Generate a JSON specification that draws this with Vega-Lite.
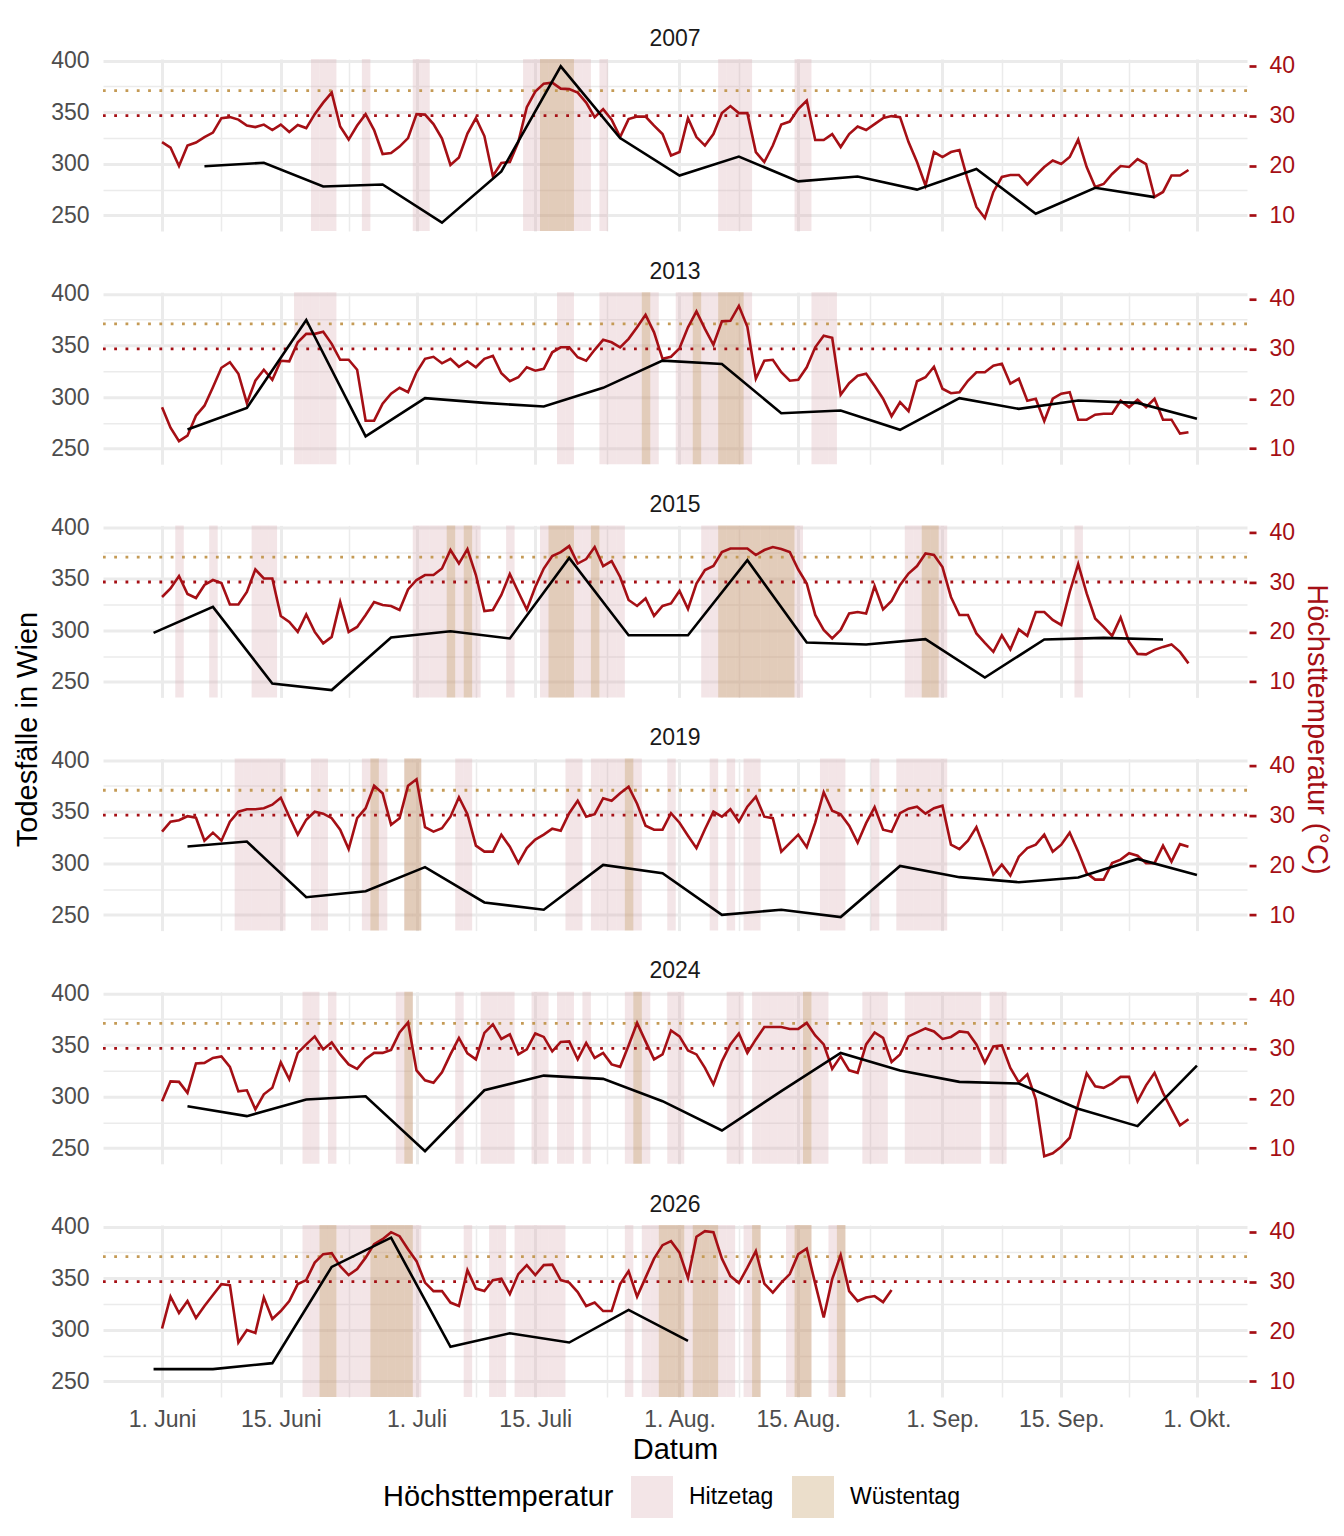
{
  "$schema": "https://vega.github.io/schema/vega-lite/v6.json",
  "description": "Todesfaelle in Wien und Hoechsttemperatur, Sommer 2007-2026",
  "background": "white",
  "padding": {"left": 13, "top": 27, "right": 5, "bottom": 5},
  "bounds": "flush",
  "spacing": 61.2,
  "config": {
    "font": "Liberation Sans",
    "view": {"stroke": null},
    "axis": {"domain": false, "gridColor": "#EBEBEB", "labelFont": "Liberation Sans", "labelFontSize": 23, "labelColor": "#4D4D4D", "titleFont": "Liberation Sans", "titleFontSize": 29, "titleFontWeight": "normal", "titleColor": "#000000"},
    "title": {"font": "Liberation Sans", "fontSize": 23, "fontWeight": "normal", "color": "#1A1A1A", "anchor": "middle", "offset": -1},
    "legend": {"labelFont": "Liberation Sans", "labelFontSize": 23, "labelColor": "#000000", "titleFont": "Liberation Sans", "titleFontSize": 29, "titleFontWeight": "normal", "titleColor": "#000000", "titleLimit": 600, "symbolType": "square", "symbolSize": 1764, "symbolStrokeWidth": 0, "symbolOpacity": 0.3, "labelOffset": 16, "columnPadding": 18, "titlePadding": 17, "titleOrient": "left", "direction": "horizontal"}
  },
  "datasets": {
    "t2007": [
      {"Datum":"2007-06-01","Tmax":24.7},{"Datum":"2007-06-02","Tmax":23.6},{"Datum":"2007-06-03","Tmax":19.9},{"Datum":"2007-06-04","Tmax":24.0},{"Datum":"2007-06-05","Tmax":24.6},{"Datum":"2007-06-06","Tmax":25.7},{"Datum":"2007-06-07","Tmax":26.6},{"Datum":"2007-06-08","Tmax":29.5},{"Datum":"2007-06-09","Tmax":29.7},{"Datum":"2007-06-10","Tmax":29.2},
      {"Datum":"2007-06-11","Tmax":28.0},{"Datum":"2007-06-12","Tmax":27.7},{"Datum":"2007-06-13","Tmax":28.2},{"Datum":"2007-06-14","Tmax":27.1},{"Datum":"2007-06-15","Tmax":28.2},{"Datum":"2007-06-16","Tmax":26.7},{"Datum":"2007-06-17","Tmax":28.1},{"Datum":"2007-06-18","Tmax":27.5},{"Datum":"2007-06-19","Tmax":30.3},{"Datum":"2007-06-20","Tmax":32.6},
      {"Datum":"2007-06-21","Tmax":34.6},{"Datum":"2007-06-22","Tmax":27.8},{"Datum":"2007-06-23","Tmax":25.2},{"Datum":"2007-06-24","Tmax":28.0},{"Datum":"2007-06-25","Tmax":30.3},{"Datum":"2007-06-26","Tmax":27.1},{"Datum":"2007-06-27","Tmax":22.3},{"Datum":"2007-06-28","Tmax":22.5},{"Datum":"2007-06-29","Tmax":23.8},{"Datum":"2007-06-30","Tmax":25.5},
      {"Datum":"2007-07-01","Tmax":30.3},{"Datum":"2007-07-02","Tmax":30.2},{"Datum":"2007-07-03","Tmax":28.3},{"Datum":"2007-07-04","Tmax":25.4},{"Datum":"2007-07-05","Tmax":20.1},{"Datum":"2007-07-06","Tmax":21.6},{"Datum":"2007-07-07","Tmax":26.4},{"Datum":"2007-07-08","Tmax":29.5},{"Datum":"2007-07-09","Tmax":25.9},{"Datum":"2007-07-10","Tmax":17.9},
      {"Datum":"2007-07-11","Tmax":20.5},{"Datum":"2007-07-12","Tmax":20.7},{"Datum":"2007-07-13","Tmax":24.7},{"Datum":"2007-07-14","Tmax":31.7},{"Datum":"2007-07-15","Tmax":34.8},{"Datum":"2007-07-16","Tmax":36.4},{"Datum":"2007-07-17","Tmax":36.6},{"Datum":"2007-07-18","Tmax":35.4},{"Datum":"2007-07-19","Tmax":35.3},{"Datum":"2007-07-20","Tmax":34.6},
      {"Datum":"2007-07-21","Tmax":32.6},{"Datum":"2007-07-22","Tmax":29.7},{"Datum":"2007-07-23","Tmax":31.3},{"Datum":"2007-07-24","Tmax":29.2},{"Datum":"2007-07-25","Tmax":25.7},{"Datum":"2007-07-26","Tmax":29.3},{"Datum":"2007-07-27","Tmax":29.8},{"Datum":"2007-07-28","Tmax":29.8},{"Datum":"2007-07-29","Tmax":28.0},{"Datum":"2007-07-30","Tmax":26.3},
      {"Datum":"2007-07-31","Tmax":22.0},{"Datum":"2007-08-01","Tmax":22.7},{"Datum":"2007-08-02","Tmax":29.5},{"Datum":"2007-08-03","Tmax":25.7},{"Datum":"2007-08-04","Tmax":24.0},{"Datum":"2007-08-05","Tmax":26.3},{"Datum":"2007-08-06","Tmax":30.5},{"Datum":"2007-08-07","Tmax":31.9},{"Datum":"2007-08-08","Tmax":30.5},{"Datum":"2007-08-09","Tmax":30.5},
      {"Datum":"2007-08-10","Tmax":22.7},{"Datum":"2007-08-11","Tmax":20.7},{"Datum":"2007-08-12","Tmax":24.0},{"Datum":"2007-08-13","Tmax":28.2},{"Datum":"2007-08-14","Tmax":28.8},{"Datum":"2007-08-15","Tmax":31.3},{"Datum":"2007-08-16","Tmax":33.0},{"Datum":"2007-08-17","Tmax":25.1},{"Datum":"2007-08-18","Tmax":25.1},{"Datum":"2007-08-19","Tmax":26.3},
      {"Datum":"2007-08-20","Tmax":23.7},{"Datum":"2007-08-21","Tmax":26.3},{"Datum":"2007-08-22","Tmax":27.8},{"Datum":"2007-08-23","Tmax":27.1},{"Datum":"2007-08-24","Tmax":28.3},{"Datum":"2007-08-25","Tmax":29.5},{"Datum":"2007-08-26","Tmax":29.9},{"Datum":"2007-08-27","Tmax":29.7},{"Datum":"2007-08-28","Tmax":24.7},{"Datum":"2007-08-29","Tmax":20.7},
      {"Datum":"2007-08-30","Tmax":16.0},{"Datum":"2007-08-31","Tmax":22.7},{"Datum":"2007-09-01","Tmax":21.7},{"Datum":"2007-09-02","Tmax":22.7},{"Datum":"2007-09-03","Tmax":23.1},{"Datum":"2007-09-04","Tmax":17.0},{"Datum":"2007-09-05","Tmax":11.7},{"Datum":"2007-09-06","Tmax":9.5},{"Datum":"2007-09-07","Tmax":14.7},{"Datum":"2007-09-08","Tmax":17.7},
      {"Datum":"2007-09-09","Tmax":18.1},{"Datum":"2007-09-10","Tmax":18.1},{"Datum":"2007-09-11","Tmax":16.2},{"Datum":"2007-09-12","Tmax":18.0},{"Datum":"2007-09-13","Tmax":19.7},{"Datum":"2007-09-14","Tmax":21.0},{"Datum":"2007-09-15","Tmax":20.3},{"Datum":"2007-09-16","Tmax":21.7},{"Datum":"2007-09-17","Tmax":25.2},{"Datum":"2007-09-18","Tmax":19.7},
      {"Datum":"2007-09-19","Tmax":15.7},{"Datum":"2007-09-20","Tmax":16.3},{"Datum":"2007-09-21","Tmax":18.3},{"Datum":"2007-09-22","Tmax":19.9},{"Datum":"2007-09-23","Tmax":19.7},{"Datum":"2007-09-24","Tmax":21.3},{"Datum":"2007-09-25","Tmax":20.3},{"Datum":"2007-09-26","Tmax":13.7},{"Datum":"2007-09-27","Tmax":14.7},{"Datum":"2007-09-28","Tmax":18.0},
      {"Datum":"2007-09-29","Tmax":18.0},{"Datum":"2007-09-30","Tmax":19.1}
    ],
    "n2007": [
      {"Datum":"2007-06-06","Tote":297.7},{"Datum":"2007-06-13","Tote":301.0},{"Datum":"2007-06-20","Tote":278.0},{"Datum":"2007-06-27","Tote":280.0},{"Datum":"2007-07-04","Tote":243.0},{"Datum":"2007-07-11","Tote":292.6},{"Datum":"2007-07-18","Tote":394.5},{"Datum":"2007-07-25","Tote":325.0},{"Datum":"2007-08-01","Tote":288.7},
      {"Datum":"2007-08-08","Tote":307.0},{"Datum":"2007-08-15","Tote":283.0},{"Datum":"2007-08-22","Tote":287.7},{"Datum":"2007-08-29","Tote":275.0},{"Datum":"2007-09-05","Tote":295.0},{"Datum":"2007-09-12","Tote":251.6},{"Datum":"2007-09-19","Tote":276.8},{"Datum":"2007-09-26","Tote":267.7}
    ],
    "t2013": [
      {"Datum":"2013-06-01","Tmax":18.3},{"Datum":"2013-06-02","Tmax":14.2},{"Datum":"2013-06-03","Tmax":11.5},{"Datum":"2013-06-04","Tmax":12.6},{"Datum":"2013-06-05","Tmax":16.6},{"Datum":"2013-06-06","Tmax":18.6},{"Datum":"2013-06-07","Tmax":22.3},{"Datum":"2013-06-08","Tmax":26.2},{"Datum":"2013-06-09","Tmax":27.3},{"Datum":"2013-06-10","Tmax":25.0},
      {"Datum":"2013-06-11","Tmax":19.1},{"Datum":"2013-06-12","Tmax":23.6},{"Datum":"2013-06-13","Tmax":25.8},{"Datum":"2013-06-14","Tmax":23.8},{"Datum":"2013-06-15","Tmax":27.6},{"Datum":"2013-06-16","Tmax":27.5},{"Datum":"2013-06-17","Tmax":31.3},{"Datum":"2013-06-18","Tmax":33.0},{"Datum":"2013-06-19","Tmax":33.0},{"Datum":"2013-06-20","Tmax":33.4},
      {"Datum":"2013-06-21","Tmax":31.0},{"Datum":"2013-06-22","Tmax":27.8},{"Datum":"2013-06-23","Tmax":27.8},{"Datum":"2013-06-24","Tmax":25.8},{"Datum":"2013-06-25","Tmax":15.6},{"Datum":"2013-06-26","Tmax":15.6},{"Datum":"2013-06-27","Tmax":19.0},{"Datum":"2013-06-28","Tmax":21.0},{"Datum":"2013-06-29","Tmax":22.2},{"Datum":"2013-06-30","Tmax":21.3},
      {"Datum":"2013-07-01","Tmax":25.3},{"Datum":"2013-07-02","Tmax":28.0},{"Datum":"2013-07-03","Tmax":28.4},{"Datum":"2013-07-04","Tmax":27.1},{"Datum":"2013-07-05","Tmax":28.0},{"Datum":"2013-07-06","Tmax":26.4},{"Datum":"2013-07-07","Tmax":27.5},{"Datum":"2013-07-08","Tmax":26.3},{"Datum":"2013-07-09","Tmax":28.0},{"Datum":"2013-07-10","Tmax":28.6},
      {"Datum":"2013-07-11","Tmax":25.1},{"Datum":"2013-07-12","Tmax":23.5},{"Datum":"2013-07-13","Tmax":24.3},{"Datum":"2013-07-14","Tmax":26.3},{"Datum":"2013-07-15","Tmax":25.6},{"Datum":"2013-07-16","Tmax":26.0},{"Datum":"2013-07-17","Tmax":29.3},{"Datum":"2013-07-18","Tmax":30.3},{"Datum":"2013-07-19","Tmax":30.3},{"Datum":"2013-07-20","Tmax":28.3},
      {"Datum":"2013-07-21","Tmax":27.6},{"Datum":"2013-07-22","Tmax":29.8},{"Datum":"2013-07-23","Tmax":31.8},{"Datum":"2013-07-24","Tmax":31.3},{"Datum":"2013-07-25","Tmax":30.3},{"Datum":"2013-07-26","Tmax":32.0},{"Datum":"2013-07-27","Tmax":34.3},{"Datum":"2013-07-28","Tmax":36.8},{"Datum":"2013-07-29","Tmax":33.3},{"Datum":"2013-07-30","Tmax":28.0},
      {"Datum":"2013-07-31","Tmax":28.4},{"Datum":"2013-08-01","Tmax":30.1},{"Datum":"2013-08-02","Tmax":34.3},{"Datum":"2013-08-03","Tmax":37.5},{"Datum":"2013-08-04","Tmax":34.0},{"Datum":"2013-08-05","Tmax":30.8},{"Datum":"2013-08-06","Tmax":35.5},{"Datum":"2013-08-07","Tmax":35.6},{"Datum":"2013-08-08","Tmax":38.6},{"Datum":"2013-08-09","Tmax":34.4},
      {"Datum":"2013-08-10","Tmax":24.0},{"Datum":"2013-08-11","Tmax":27.6},{"Datum":"2013-08-12","Tmax":27.8},{"Datum":"2013-08-13","Tmax":25.3},{"Datum":"2013-08-14","Tmax":23.6},{"Datum":"2013-08-15","Tmax":23.8},{"Datum":"2013-08-16","Tmax":26.3},{"Datum":"2013-08-17","Tmax":30.3},{"Datum":"2013-08-18","Tmax":32.6},{"Datum":"2013-08-19","Tmax":32.2},
      {"Datum":"2013-08-20","Tmax":20.8},{"Datum":"2013-08-21","Tmax":23.1},{"Datum":"2013-08-22","Tmax":24.6},{"Datum":"2013-08-23","Tmax":25.0},{"Datum":"2013-08-24","Tmax":22.6},{"Datum":"2013-08-25","Tmax":20.0},{"Datum":"2013-08-26","Tmax":16.5},{"Datum":"2013-08-27","Tmax":19.3},{"Datum":"2013-08-28","Tmax":17.5},{"Datum":"2013-08-29","Tmax":23.5},
      {"Datum":"2013-08-30","Tmax":24.3},{"Datum":"2013-08-31","Tmax":26.4},{"Datum":"2013-09-01","Tmax":22.0},{"Datum":"2013-09-02","Tmax":21.1},{"Datum":"2013-09-03","Tmax":21.3},{"Datum":"2013-09-04","Tmax":23.6},{"Datum":"2013-09-05","Tmax":25.3},{"Datum":"2013-09-06","Tmax":25.3},{"Datum":"2013-09-07","Tmax":26.6},{"Datum":"2013-09-08","Tmax":27.0},
      {"Datum":"2013-09-09","Tmax":23.0},{"Datum":"2013-09-10","Tmax":24.0},{"Datum":"2013-09-11","Tmax":19.6},{"Datum":"2013-09-12","Tmax":20.0},{"Datum":"2013-09-13","Tmax":15.5},{"Datum":"2013-09-14","Tmax":20.0},{"Datum":"2013-09-15","Tmax":21.0},{"Datum":"2013-09-16","Tmax":21.3},{"Datum":"2013-09-17","Tmax":15.8},{"Datum":"2013-09-18","Tmax":15.8},
      {"Datum":"2013-09-19","Tmax":16.8},{"Datum":"2013-09-20","Tmax":17.0},{"Datum":"2013-09-21","Tmax":17.0},{"Datum":"2013-09-22","Tmax":19.6},{"Datum":"2013-09-23","Tmax":18.3},{"Datum":"2013-09-24","Tmax":19.8},{"Datum":"2013-09-25","Tmax":18.3},{"Datum":"2013-09-26","Tmax":20.0},{"Datum":"2013-09-27","Tmax":15.8},{"Datum":"2013-09-28","Tmax":15.8},
      {"Datum":"2013-09-29","Tmax":13.0},{"Datum":"2013-09-30","Tmax":13.3}
    ],
    "n2013": [
      {"Datum":"2013-06-04","Tote":268.5},{"Datum":"2013-06-11","Tote":289.5},{"Datum":"2013-06-18","Tote":374.7},{"Datum":"2013-06-25","Tote":261.8},{"Datum":"2013-07-02","Tote":298.9},{"Datum":"2013-07-09","Tote":294.3},{"Datum":"2013-07-16","Tote":290.8},{"Datum":"2013-07-23","Tote":308.9},{"Datum":"2013-07-30","Tote":335.3},
      {"Datum":"2013-08-06","Tote":332.1},{"Datum":"2013-08-13","Tote":284.3},{"Datum":"2013-08-20","Tote":286.9},{"Datum":"2013-08-27","Tote":268.2},{"Datum":"2013-09-03","Tote":298.9},{"Datum":"2013-09-10","Tote":288.5},{"Datum":"2013-09-17","Tote":296.6},{"Datum":"2013-09-24","Tote":294.3},{"Datum":"2013-10-01","Tote":278.9}
    ],
    "t2015": [
      {"Datum":"2015-06-01","Tmax":27.0},{"Datum":"2015-06-02","Tmax":28.7},{"Datum":"2015-06-03","Tmax":31.2},{"Datum":"2015-06-04","Tmax":27.6},{"Datum":"2015-06-05","Tmax":26.8},{"Datum":"2015-06-06","Tmax":29.4},{"Datum":"2015-06-07","Tmax":30.4},{"Datum":"2015-06-08","Tmax":29.8},{"Datum":"2015-06-09","Tmax":25.5},{"Datum":"2015-06-10","Tmax":25.5},
      {"Datum":"2015-06-11","Tmax":28.0},{"Datum":"2015-06-12","Tmax":32.5},{"Datum":"2015-06-13","Tmax":30.7},{"Datum":"2015-06-14","Tmax":30.7},{"Datum":"2015-06-15","Tmax":23.2},{"Datum":"2015-06-16","Tmax":22.0},{"Datum":"2015-06-17","Tmax":20.0},{"Datum":"2015-06-18","Tmax":23.5},{"Datum":"2015-06-19","Tmax":20.0},{"Datum":"2015-06-20","Tmax":17.7},
      {"Datum":"2015-06-21","Tmax":19.0},{"Datum":"2015-06-22","Tmax":26.0},{"Datum":"2015-06-23","Tmax":20.0},{"Datum":"2015-06-24","Tmax":21.0},{"Datum":"2015-06-25","Tmax":23.4},{"Datum":"2015-06-26","Tmax":26.0},{"Datum":"2015-06-27","Tmax":25.4},{"Datum":"2015-06-28","Tmax":25.2},{"Datum":"2015-06-29","Tmax":24.4},{"Datum":"2015-06-30","Tmax":28.5},
      {"Datum":"2015-07-01","Tmax":30.4},{"Datum":"2015-07-02","Tmax":31.4},{"Datum":"2015-07-03","Tmax":31.4},{"Datum":"2015-07-04","Tmax":32.7},{"Datum":"2015-07-05","Tmax":36.4},{"Datum":"2015-07-06","Tmax":33.7},{"Datum":"2015-07-07","Tmax":36.6},{"Datum":"2015-07-08","Tmax":31.4},{"Datum":"2015-07-09","Tmax":24.2},{"Datum":"2015-07-10","Tmax":24.4},
      {"Datum":"2015-07-11","Tmax":27.4},{"Datum":"2015-07-12","Tmax":31.6},{"Datum":"2015-07-13","Tmax":28.0},{"Datum":"2015-07-14","Tmax":24.5},{"Datum":"2015-07-15","Tmax":29.0},{"Datum":"2015-07-16","Tmax":32.7},{"Datum":"2015-07-17","Tmax":35.2},{"Datum":"2015-07-18","Tmax":36.0},{"Datum":"2015-07-19","Tmax":37.2},{"Datum":"2015-07-20","Tmax":33.7},
      {"Datum":"2015-07-21","Tmax":34.6},{"Datum":"2015-07-22","Tmax":37.0},{"Datum":"2015-07-23","Tmax":33.2},{"Datum":"2015-07-24","Tmax":34.2},{"Datum":"2015-07-25","Tmax":31.0},{"Datum":"2015-07-26","Tmax":26.4},{"Datum":"2015-07-27","Tmax":25.2},{"Datum":"2015-07-28","Tmax":26.7},{"Datum":"2015-07-29","Tmax":23.2},{"Datum":"2015-07-30","Tmax":25.2},
      {"Datum":"2015-07-31","Tmax":25.7},{"Datum":"2015-08-01","Tmax":28.2},{"Datum":"2015-08-02","Tmax":24.6},{"Datum":"2015-08-03","Tmax":29.7},{"Datum":"2015-08-04","Tmax":32.4},{"Datum":"2015-08-05","Tmax":33.2},{"Datum":"2015-08-06","Tmax":36.0},{"Datum":"2015-08-07","Tmax":36.7},{"Datum":"2015-08-08","Tmax":36.7},{"Datum":"2015-08-09","Tmax":36.7},
      {"Datum":"2015-08-10","Tmax":35.4},{"Datum":"2015-08-11","Tmax":36.4},{"Datum":"2015-08-12","Tmax":37.0},{"Datum":"2015-08-13","Tmax":36.6},{"Datum":"2015-08-14","Tmax":36.0},{"Datum":"2015-08-15","Tmax":32.5},{"Datum":"2015-08-16","Tmax":29.7},{"Datum":"2015-08-17","Tmax":23.4},{"Datum":"2015-08-18","Tmax":20.4},{"Datum":"2015-08-19","Tmax":18.7},
      {"Datum":"2015-08-20","Tmax":20.4},{"Datum":"2015-08-21","Tmax":23.7},{"Datum":"2015-08-22","Tmax":24.0},{"Datum":"2015-08-23","Tmax":23.7},{"Datum":"2015-08-24","Tmax":29.2},{"Datum":"2015-08-25","Tmax":24.5},{"Datum":"2015-08-26","Tmax":26.2},{"Datum":"2015-08-27","Tmax":29.4},{"Datum":"2015-08-28","Tmax":31.7},{"Datum":"2015-08-29","Tmax":33.2},
      {"Datum":"2015-08-30","Tmax":35.7},{"Datum":"2015-08-31","Tmax":35.4},{"Datum":"2015-09-01","Tmax":33.0},{"Datum":"2015-09-02","Tmax":27.0},{"Datum":"2015-09-03","Tmax":23.4},{"Datum":"2015-09-04","Tmax":23.4},{"Datum":"2015-09-05","Tmax":19.7},{"Datum":"2015-09-06","Tmax":17.8},{"Datum":"2015-09-07","Tmax":16.0},{"Datum":"2015-09-08","Tmax":19.3},
      {"Datum":"2015-09-09","Tmax":16.5},{"Datum":"2015-09-10","Tmax":20.5},{"Datum":"2015-09-11","Tmax":19.2},{"Datum":"2015-09-12","Tmax":24.0},{"Datum":"2015-09-13","Tmax":24.0},{"Datum":"2015-09-14","Tmax":22.4},{"Datum":"2015-09-15","Tmax":21.4},{"Datum":"2015-09-16","Tmax":28.0},{"Datum":"2015-09-17","Tmax":33.6},{"Datum":"2015-09-18","Tmax":27.7},
      {"Datum":"2015-09-19","Tmax":22.7},{"Datum":"2015-09-20","Tmax":21.0},{"Datum":"2015-09-21","Tmax":19.2},{"Datum":"2015-09-22","Tmax":22.9},{"Datum":"2015-09-23","Tmax":18.0},{"Datum":"2015-09-24","Tmax":15.6},{"Datum":"2015-09-25","Tmax":15.5},{"Datum":"2015-09-26","Tmax":16.4},{"Datum":"2015-09-27","Tmax":17.0},{"Datum":"2015-09-28","Tmax":17.5},
      {"Datum":"2015-09-29","Tmax":16.0},{"Datum":"2015-09-30","Tmax":13.7}
    ],
    "n2015": [
      {"Datum":"2015-05-31","Tote":297.4},{"Datum":"2015-06-07","Tote":322.6},{"Datum":"2015-06-14","Tote":248.4},{"Datum":"2015-06-21","Tote":242.0},{"Datum":"2015-06-28","Tote":292.9},{"Datum":"2015-07-05","Tote":299.0},{"Datum":"2015-07-12","Tote":292.0},{"Datum":"2015-07-19","Tote":370.0},{"Datum":"2015-07-26","Tote":295.2},
      {"Datum":"2015-08-02","Tote":295.2},{"Datum":"2015-08-09","Tote":367.8},{"Datum":"2015-08-16","Tote":288.1},{"Datum":"2015-08-23","Tote":286.1},{"Datum":"2015-08-30","Tote":291.3},{"Datum":"2015-09-06","Tote":254.2},{"Datum":"2015-09-13","Tote":291.0},{"Datum":"2015-09-20","Tote":292.6},{"Datum":"2015-09-27","Tote":291.0}
    ],
    "t2019": [
      {"Datum":"2019-06-01","Tmax":26.7},{"Datum":"2019-06-02","Tmax":28.7},{"Datum":"2019-06-03","Tmax":29.0},{"Datum":"2019-06-04","Tmax":29.8},{"Datum":"2019-06-05","Tmax":29.5},{"Datum":"2019-06-06","Tmax":24.9},{"Datum":"2019-06-07","Tmax":26.5},{"Datum":"2019-06-08","Tmax":24.9},{"Datum":"2019-06-09","Tmax":28.7},{"Datum":"2019-06-10","Tmax":30.7},
      {"Datum":"2019-06-11","Tmax":31.2},{"Datum":"2019-06-12","Tmax":31.2},{"Datum":"2019-06-13","Tmax":31.4},{"Datum":"2019-06-14","Tmax":32.1},{"Datum":"2019-06-15","Tmax":33.5},{"Datum":"2019-06-16","Tmax":29.7},{"Datum":"2019-06-17","Tmax":26.1},{"Datum":"2019-06-18","Tmax":29.1},{"Datum":"2019-06-19","Tmax":30.7},{"Datum":"2019-06-20","Tmax":30.3},
      {"Datum":"2019-06-21","Tmax":29.4},{"Datum":"2019-06-22","Tmax":27.1},{"Datum":"2019-06-23","Tmax":23.2},{"Datum":"2019-06-24","Tmax":29.4},{"Datum":"2019-06-25","Tmax":31.4},{"Datum":"2019-06-26","Tmax":35.9},{"Datum":"2019-06-27","Tmax":34.4},{"Datum":"2019-06-28","Tmax":28.1},{"Datum":"2019-06-29","Tmax":29.4},{"Datum":"2019-06-30","Tmax":35.9},
      {"Datum":"2019-07-01","Tmax":37.2},{"Datum":"2019-07-02","Tmax":27.6},{"Datum":"2019-07-03","Tmax":26.7},{"Datum":"2019-07-04","Tmax":27.4},{"Datum":"2019-07-05","Tmax":29.7},{"Datum":"2019-07-06","Tmax":33.6},{"Datum":"2019-07-07","Tmax":30.2},{"Datum":"2019-07-08","Tmax":23.9},{"Datum":"2019-07-09","Tmax":22.7},{"Datum":"2019-07-10","Tmax":22.7},
      {"Datum":"2019-07-11","Tmax":26.1},{"Datum":"2019-07-12","Tmax":23.7},{"Datum":"2019-07-13","Tmax":20.4},{"Datum":"2019-07-14","Tmax":23.4},{"Datum":"2019-07-15","Tmax":25.1},{"Datum":"2019-07-16","Tmax":26.1},{"Datum":"2019-07-17","Tmax":27.3},{"Datum":"2019-07-18","Tmax":26.9},{"Datum":"2019-07-19","Tmax":30.4},{"Datum":"2019-07-20","Tmax":32.9},
      {"Datum":"2019-07-21","Tmax":29.7},{"Datum":"2019-07-22","Tmax":30.2},{"Datum":"2019-07-23","Tmax":33.4},{"Datum":"2019-07-24","Tmax":32.9},{"Datum":"2019-07-25","Tmax":34.4},{"Datum":"2019-07-26","Tmax":35.7},{"Datum":"2019-07-27","Tmax":32.3},{"Datum":"2019-07-28","Tmax":27.9},{"Datum":"2019-07-29","Tmax":27.1},{"Datum":"2019-07-30","Tmax":27.1},
      {"Datum":"2019-07-31","Tmax":30.4},{"Datum":"2019-08-01","Tmax":28.5},{"Datum":"2019-08-02","Tmax":25.9},{"Datum":"2019-08-03","Tmax":23.4},{"Datum":"2019-08-04","Tmax":27.2},{"Datum":"2019-08-05","Tmax":30.7},{"Datum":"2019-08-06","Tmax":29.7},{"Datum":"2019-08-07","Tmax":31.2},{"Datum":"2019-08-08","Tmax":28.7},{"Datum":"2019-08-09","Tmax":31.7},
      {"Datum":"2019-08-10","Tmax":33.7},{"Datum":"2019-08-11","Tmax":29.7},{"Datum":"2019-08-12","Tmax":29.4},{"Datum":"2019-08-13","Tmax":22.7},{"Datum":"2019-08-14","Tmax":24.4},{"Datum":"2019-08-15","Tmax":26.1},{"Datum":"2019-08-16","Tmax":23.6},{"Datum":"2019-08-17","Tmax":28.5},{"Datum":"2019-08-18","Tmax":34.6},{"Datum":"2019-08-19","Tmax":30.9},
      {"Datum":"2019-08-20","Tmax":30.2},{"Datum":"2019-08-21","Tmax":27.9},{"Datum":"2019-08-22","Tmax":24.5},{"Datum":"2019-08-23","Tmax":28.4},{"Datum":"2019-08-24","Tmax":31.6},{"Datum":"2019-08-25","Tmax":27.1},{"Datum":"2019-08-26","Tmax":26.7},{"Datum":"2019-08-27","Tmax":30.4},{"Datum":"2019-08-28","Tmax":31.3},{"Datum":"2019-08-29","Tmax":31.7},
      {"Datum":"2019-08-30","Tmax":30.3},{"Datum":"2019-08-31","Tmax":31.4},{"Datum":"2019-09-01","Tmax":31.9},{"Datum":"2019-09-02","Tmax":24.1},{"Datum":"2019-09-03","Tmax":23.2},{"Datum":"2019-09-04","Tmax":24.9},{"Datum":"2019-09-05","Tmax":27.6},{"Datum":"2019-09-06","Tmax":23.1},{"Datum":"2019-09-07","Tmax":18.1},{"Datum":"2019-09-08","Tmax":20.1},
      {"Datum":"2019-09-09","Tmax":17.9},{"Datum":"2019-09-10","Tmax":21.7},{"Datum":"2019-09-11","Tmax":23.4},{"Datum":"2019-09-12","Tmax":24.1},{"Datum":"2019-09-13","Tmax":26.1},{"Datum":"2019-09-14","Tmax":22.7},{"Datum":"2019-09-15","Tmax":24.1},{"Datum":"2019-09-16","Tmax":26.5},{"Datum":"2019-09-17","Tmax":22.7},{"Datum":"2019-09-18","Tmax":18.4},
      {"Datum":"2019-09-19","Tmax":17.1},{"Datum":"2019-09-20","Tmax":17.1},{"Datum":"2019-09-21","Tmax":20.4},{"Datum":"2019-09-22","Tmax":21.1},{"Datum":"2019-09-23","Tmax":22.4},{"Datum":"2019-09-24","Tmax":21.9},{"Datum":"2019-09-25","Tmax":20.4},{"Datum":"2019-09-26","Tmax":20.4},{"Datum":"2019-09-27","Tmax":23.9},{"Datum":"2019-09-28","Tmax":20.7},
      {"Datum":"2019-09-29","Tmax":24.2},{"Datum":"2019-09-30","Tmax":23.7}
    ],
    "n2019": [
      {"Datum":"2019-06-04","Tote":316.4},{"Datum":"2019-06-11","Tote":321.2},{"Datum":"2019-06-18","Tote":267.3},{"Datum":"2019-06-25","Tote":273.1},{"Datum":"2019-07-02","Tote":296.4},{"Datum":"2019-07-09","Tote":262.2},{"Datum":"2019-07-16","Tote":255.1},{"Datum":"2019-07-23","Tote":298.6},{"Datum":"2019-07-30","Tote":290.5},
      {"Datum":"2019-08-06","Tote":250.2},{"Datum":"2019-08-13","Tote":255.1},{"Datum":"2019-08-20","Tote":248.0},{"Datum":"2019-08-27","Tote":297.6},{"Datum":"2019-09-03","Tote":286.7},{"Datum":"2019-09-10","Tote":281.8},{"Datum":"2019-09-17","Tote":286.3},{"Datum":"2019-09-24","Tote":304.4},{"Datum":"2019-10-01","Tote":288.9}
    ],
    "t2024": [
      {"Datum":"2024-06-01","Tmax":19.4},{"Datum":"2024-06-02","Tmax":23.4},{"Datum":"2024-06-03","Tmax":23.3},{"Datum":"2024-06-04","Tmax":21.1},{"Datum":"2024-06-05","Tmax":27.0},{"Datum":"2024-06-06","Tmax":27.1},{"Datum":"2024-06-07","Tmax":28.1},{"Datum":"2024-06-08","Tmax":28.4},{"Datum":"2024-06-09","Tmax":26.3},{"Datum":"2024-06-10","Tmax":21.4},
      {"Datum":"2024-06-11","Tmax":21.6},{"Datum":"2024-06-12","Tmax":17.8},{"Datum":"2024-06-13","Tmax":20.8},{"Datum":"2024-06-14","Tmax":22.1},{"Datum":"2024-06-15","Tmax":27.2},{"Datum":"2024-06-16","Tmax":23.8},{"Datum":"2024-06-17","Tmax":29.1},{"Datum":"2024-06-18","Tmax":30.8},{"Datum":"2024-06-19","Tmax":32.4},{"Datum":"2024-06-20","Tmax":29.8},
      {"Datum":"2024-06-21","Tmax":31.2},{"Datum":"2024-06-22","Tmax":28.8},{"Datum":"2024-06-23","Tmax":26.8},{"Datum":"2024-06-24","Tmax":25.9},{"Datum":"2024-06-25","Tmax":27.9},{"Datum":"2024-06-26","Tmax":29.1},{"Datum":"2024-06-27","Tmax":29.1},{"Datum":"2024-06-28","Tmax":29.7},{"Datum":"2024-06-29","Tmax":33.2},{"Datum":"2024-06-30","Tmax":35.2},
      {"Datum":"2024-07-01","Tmax":25.6},{"Datum":"2024-07-02","Tmax":23.6},{"Datum":"2024-07-03","Tmax":23.1},{"Datum":"2024-07-04","Tmax":25.2},{"Datum":"2024-07-05","Tmax":28.8},{"Datum":"2024-07-06","Tmax":32.1},{"Datum":"2024-07-07","Tmax":29.0},{"Datum":"2024-07-08","Tmax":27.8},{"Datum":"2024-07-09","Tmax":33.1},{"Datum":"2024-07-10","Tmax":34.8},
      {"Datum":"2024-07-11","Tmax":31.9},{"Datum":"2024-07-12","Tmax":32.8},{"Datum":"2024-07-13","Tmax":28.8},{"Datum":"2024-07-14","Tmax":29.8},{"Datum":"2024-07-15","Tmax":33.0},{"Datum":"2024-07-16","Tmax":32.3},{"Datum":"2024-07-17","Tmax":29.4},{"Datum":"2024-07-18","Tmax":31.3},{"Datum":"2024-07-19","Tmax":31.4},{"Datum":"2024-07-20","Tmax":27.8},
      {"Datum":"2024-07-21","Tmax":31.1},{"Datum":"2024-07-22","Tmax":28.1},{"Datum":"2024-07-23","Tmax":29.1},{"Datum":"2024-07-24","Tmax":26.8},{"Datum":"2024-07-25","Tmax":26.3},{"Datum":"2024-07-26","Tmax":30.6},{"Datum":"2024-07-27","Tmax":35.1},{"Datum":"2024-07-28","Tmax":31.4},{"Datum":"2024-07-29","Tmax":27.8},{"Datum":"2024-07-30","Tmax":28.8},
      {"Datum":"2024-07-31","Tmax":33.6},{"Datum":"2024-08-01","Tmax":32.4},{"Datum":"2024-08-02","Tmax":29.6},{"Datum":"2024-08-03","Tmax":28.8},{"Datum":"2024-08-04","Tmax":26.1},{"Datum":"2024-08-05","Tmax":22.8},{"Datum":"2024-08-06","Tmax":27.4},{"Datum":"2024-08-07","Tmax":30.8},{"Datum":"2024-08-08","Tmax":33.0},{"Datum":"2024-08-09","Tmax":29.1},
      {"Datum":"2024-08-10","Tmax":31.8},{"Datum":"2024-08-11","Tmax":34.3},{"Datum":"2024-08-12","Tmax":34.3},{"Datum":"2024-08-13","Tmax":34.3},{"Datum":"2024-08-14","Tmax":33.9},{"Datum":"2024-08-15","Tmax":33.9},{"Datum":"2024-08-16","Tmax":35.1},{"Datum":"2024-08-17","Tmax":32.6},{"Datum":"2024-08-18","Tmax":30.8},{"Datum":"2024-08-19","Tmax":25.9},
      {"Datum":"2024-08-20","Tmax":28.4},{"Datum":"2024-08-21","Tmax":25.6},{"Datum":"2024-08-22","Tmax":25.1},{"Datum":"2024-08-23","Tmax":30.8},{"Datum":"2024-08-24","Tmax":33.2},{"Datum":"2024-08-25","Tmax":32.1},{"Datum":"2024-08-26","Tmax":27.3},{"Datum":"2024-08-27","Tmax":28.8},{"Datum":"2024-08-28","Tmax":32.4},{"Datum":"2024-08-29","Tmax":33.2},
      {"Datum":"2024-08-30","Tmax":34.0},{"Datum":"2024-08-31","Tmax":33.4},{"Datum":"2024-09-01","Tmax":31.9},{"Datum":"2024-09-02","Tmax":32.3},{"Datum":"2024-09-03","Tmax":33.4},{"Datum":"2024-09-04","Tmax":33.2},{"Datum":"2024-09-05","Tmax":30.8},{"Datum":"2024-09-06","Tmax":27.1},{"Datum":"2024-09-07","Tmax":30.4},{"Datum":"2024-09-08","Tmax":30.6},
      {"Datum":"2024-09-09","Tmax":26.1},{"Datum":"2024-09-10","Tmax":23.2},{"Datum":"2024-09-11","Tmax":24.8},{"Datum":"2024-09-12","Tmax":19.8},{"Datum":"2024-09-13","Tmax":8.4},{"Datum":"2024-09-14","Tmax":9.0},{"Datum":"2024-09-15","Tmax":10.3},{"Datum":"2024-09-16","Tmax":12.1},{"Datum":"2024-09-17","Tmax":18.8},{"Datum":"2024-09-18","Tmax":25.0},
      {"Datum":"2024-09-19","Tmax":22.4},{"Datum":"2024-09-20","Tmax":22.1},{"Datum":"2024-09-21","Tmax":23.0},{"Datum":"2024-09-22","Tmax":24.3},{"Datum":"2024-09-23","Tmax":24.3},{"Datum":"2024-09-24","Tmax":19.4},{"Datum":"2024-09-25","Tmax":22.6},{"Datum":"2024-09-26","Tmax":25.1},{"Datum":"2024-09-27","Tmax":21.1},{"Datum":"2024-09-28","Tmax":17.8},
      {"Datum":"2024-09-29","Tmax":14.6},{"Datum":"2024-09-30","Tmax":15.8}
    ],
    "n2024": [
      {"Datum":"2024-06-04","Tote":290.7},{"Datum":"2024-06-11","Tote":281.1},{"Datum":"2024-06-18","Tote":297.2},{"Datum":"2024-06-25","Tote":300.4},{"Datum":"2024-07-02","Tote":247.2},{"Datum":"2024-07-09","Tote":306.2},{"Datum":"2024-07-16","Tote":320.4},{"Datum":"2024-07-23","Tote":317.2},{"Datum":"2024-07-30","Tote":295.6},
      {"Datum":"2024-08-06","Tote":267.2},{"Datum":"2024-08-13","Tote":305.3},{"Datum":"2024-08-20","Tote":342.4},{"Datum":"2024-08-27","Tote":325.3},{"Datum":"2024-09-03","Tote":314.3},{"Datum":"2024-09-10","Tote":312.7},{"Datum":"2024-09-17","Tote":288.2},{"Datum":"2024-09-24","Tote":271.4},{"Datum":"2024-10-01","Tote":330.1}
    ],
    "t2026": [
      {"Datum":"2026-06-01","Tmax":20.6},{"Datum":"2026-06-02","Tmax":27.0},{"Datum":"2026-06-03","Tmax":23.7},{"Datum":"2026-06-04","Tmax":26.1},{"Datum":"2026-06-05","Tmax":22.7},{"Datum":"2026-06-06","Tmax":25.1},{"Datum":"2026-06-07","Tmax":27.3},{"Datum":"2026-06-08","Tmax":29.5},{"Datum":"2026-06-09","Tmax":29.3},{"Datum":"2026-06-10","Tmax":17.8},
      {"Datum":"2026-06-11","Tmax":20.3},{"Datum":"2026-06-12","Tmax":19.7},{"Datum":"2026-06-13","Tmax":26.8},{"Datum":"2026-06-14","Tmax":22.5},{"Datum":"2026-06-15","Tmax":24.1},{"Datum":"2026-06-16","Tmax":26.1},{"Datum":"2026-06-17","Tmax":29.5},{"Datum":"2026-06-18","Tmax":30.3},{"Datum":"2026-06-19","Tmax":33.8},{"Datum":"2026-06-20","Tmax":35.5},
      {"Datum":"2026-06-21","Tmax":35.7},{"Datum":"2026-06-22","Tmax":33.1},{"Datum":"2026-06-23","Tmax":31.3},{"Datum":"2026-06-24","Tmax":32.5},{"Datum":"2026-06-25","Tmax":34.8},{"Datum":"2026-06-26","Tmax":37.5},{"Datum":"2026-06-27","Tmax":38.5},{"Datum":"2026-06-28","Tmax":39.9},{"Datum":"2026-06-29","Tmax":39.1},{"Datum":"2026-06-30","Tmax":36.5},
      {"Datum":"2026-07-01","Tmax":34.1},{"Datum":"2026-07-02","Tmax":29.8},{"Datum":"2026-07-03","Tmax":28.1},{"Datum":"2026-07-04","Tmax":28.1},{"Datum":"2026-07-05","Tmax":25.8},{"Datum":"2026-07-06","Tmax":25.1},{"Datum":"2026-07-07","Tmax":32.3},{"Datum":"2026-07-08","Tmax":28.6},{"Datum":"2026-07-09","Tmax":28.1},{"Datum":"2026-07-10","Tmax":30.3},
      {"Datum":"2026-07-11","Tmax":30.6},{"Datum":"2026-07-12","Tmax":27.5},{"Datum":"2026-07-13","Tmax":31.5},{"Datum":"2026-07-14","Tmax":33.3},{"Datum":"2026-07-15","Tmax":31.3},{"Datum":"2026-07-16","Tmax":33.3},{"Datum":"2026-07-17","Tmax":33.4},{"Datum":"2026-07-18","Tmax":30.3},{"Datum":"2026-07-19","Tmax":29.8},{"Datum":"2026-07-20","Tmax":27.9},
      {"Datum":"2026-07-21","Tmax":25.1},{"Datum":"2026-07-22","Tmax":25.8},{"Datum":"2026-07-23","Tmax":24.1},{"Datum":"2026-07-24","Tmax":24.1},{"Datum":"2026-07-25","Tmax":29.5},{"Datum":"2026-07-26","Tmax":32.1},{"Datum":"2026-07-27","Tmax":27.0},{"Datum":"2026-07-28","Tmax":30.8},{"Datum":"2026-07-29","Tmax":34.6},{"Datum":"2026-07-30","Tmax":37.3},
      {"Datum":"2026-07-31","Tmax":38.1},{"Datum":"2026-08-01","Tmax":35.8},{"Datum":"2026-08-02","Tmax":30.7},{"Datum":"2026-08-03","Tmax":39.0},{"Datum":"2026-08-04","Tmax":40.1},{"Datum":"2026-08-05","Tmax":39.9},{"Datum":"2026-08-06","Tmax":34.6},{"Datum":"2026-08-07","Tmax":31.1},{"Datum":"2026-08-08","Tmax":29.7},{"Datum":"2026-08-09","Tmax":32.8},
      {"Datum":"2026-08-10","Tmax":36.1},{"Datum":"2026-08-11","Tmax":29.6},{"Datum":"2026-08-12","Tmax":27.8},{"Datum":"2026-08-13","Tmax":29.8},{"Datum":"2026-08-14","Tmax":31.5},{"Datum":"2026-08-15","Tmax":35.5},{"Datum":"2026-08-16","Tmax":36.6},{"Datum":"2026-08-17","Tmax":29.6},{"Datum":"2026-08-18","Tmax":22.8},{"Datum":"2026-08-19","Tmax":30.5},
      {"Datum":"2026-08-20","Tmax":35.3},{"Datum":"2026-08-21","Tmax":28.1},{"Datum":"2026-08-22","Tmax":26.1},{"Datum":"2026-08-23","Tmax":26.8},{"Datum":"2026-08-24","Tmax":27.1},{"Datum":"2026-08-25","Tmax":25.9},{"Datum":"2026-08-26","Tmax":28.3}
    ],
    "n2026": [
      {"Datum":"2026-05-31","Tote":261.9},{"Datum":"2026-06-07","Tote":261.9},{"Datum":"2026-06-14","Tote":267.7},{"Datum":"2026-06-21","Tote":361.0},{"Datum":"2026-06-28","Tote":389.3},{"Datum":"2026-07-05","Tote":283.5},{"Datum":"2026-07-12","Tote":296.7},{"Datum":"2026-07-19","Tote":287.7},{"Datum":"2026-07-26","Tote":319.3},{"Datum":"2026-08-02","Tote":289.3}
    ]
  },
  "vconcat": [
    {
      "title": "2007", "width": 1144, "height": 172,
      "layer": [
        {"data": {"name": "t2007"}, "transform": [{"filter": "datum.Tmax >= 30"}], "mark": {"type": "bar", "opacity": 0.3, "binSpacing": 0},
         "encoding": {"x": {"field": "Datum", "timeUnit": "utcmonthdate", "type": "temporal", "scale": {"type": "utc", "domain": [{"year": 2012, "month": 5, "date": 25, "hours": 12, "minutes": 58, "utc": true}, {"year": 2012, "month": 10, "date": 7, "hours": 9, "minutes": 36, "utc": true}]}, "axis": null},
          "y": {"datum": 41.34, "type": "quantitative", "scale": {"domain": [6.88, 41.34], "nice": false, "zero": false}, "axis": null}, "y2": {"datum": 6.88},
          "color": {"datum": "Hitzetag", "type": "nominal", "scale": {"domain": ["Hitzetag", "Wüstentag"], "range": ["#D7A8AF", "#BC9152"]}, "legend": {"title": "Höchsttemperatur", "orient": "none", "legendX": 280, "legendY": 1417, "direction": "horizontal"}}}},
        {"data": {"name": "t2007"}, "transform": [{"filter": "datum.Tmax >= 35"}], "mark": {"type": "bar", "opacity": 0.3, "binSpacing": 0},
         "encoding": {"x": {"field": "Datum", "timeUnit": "utcmonthdate", "type": "temporal", "axis": null},
          "y": {"datum": 41.34, "type": "quantitative", "scale": {"domain": [6.88, 41.34], "nice": false, "zero": false}, "axis": null}, "y2": {"datum": 6.88},
          "color": {"datum": "Wüstentag", "type": "nominal"}}},
        {"data": {"values": [{}]}, "mark": {"type": "rule", "color": "#A50F15", "strokeWidth": 2.8, "strokeDash": [2.8, 8.5]}, "encoding": {"y": {"datum": 30, "type": "quantitative", "scale": {"domain": [6.88, 41.34], "nice": false, "zero": false}, "axis": null}}},
        {"data": {"values": [{}]}, "mark": {"type": "rule", "color": "#C49A55", "strokeWidth": 2.8, "strokeDash": [2.8, 8.5]}, "encoding": {"y": {"datum": 35, "type": "quantitative", "scale": {"domain": [6.88, 41.34], "nice": false, "zero": false}, "axis": null}}},
        {"data": {"name": "t2007"}, "mark": {"type": "line", "color": "#A50F15", "strokeWidth": 2.6},
         "encoding": {"x": {"field": "Datum", "timeUnit": "utcmonthdate", "type": "temporal", "bandPosition": 0.5,
           "axis": {"orient": "bottom", "values": [{"year":2012,"month":6,"date":1,"hours":12,"utc":true},{"year":2012,"month":6,"date":15,"hours":12,"utc":true},{"year":2012,"month":7,"date":1,"hours":12,"utc":true},{"year":2012,"month":7,"date":15,"hours":12,"utc":true},{"year":2012,"month":8,"date":1,"hours":12,"utc":true},{"year":2012,"month":8,"date":15,"hours":12,"utc":true},{"year":2012,"month":9,"date":1,"hours":12,"utc":true},{"year":2012,"month":9,"date":15,"hours":12,"utc":true},{"year":2012,"month":10,"date":1,"hours":12,"utc":true}], "grid": true, "gridWidth": 3, "labels": false, "ticks": false, "title": null}},
          "y": {"field": "Tmax", "type": "quantitative", "scale": {"domain": [6.88, 41.34], "nice": false, "zero": false}, "axis": {"orient": "right", "values": [10, 20, 30, 40], "grid": false, "ticks": true, "tickColor": "#A50F15", "tickWidth": 2.7, "tickSize": 7, "offset": 2, "labelColor": "#A50F15", "labelPadding": 13, "title": null}}}},
        {"data": {"name": "n2007"}, "mark": {"type": "line", "color": "#000000", "strokeWidth": 2.6},
         "encoding": {"x": {"field": "Datum", "timeUnit": "utcmonthdate", "type": "temporal", "bandPosition": 0.5, "axis": null},
          "y": {"field": "Tote", "type": "quantitative", "scale": {"domain": [234.9, 401.6], "nice": false, "zero": false}, "axis": {"orient": "left", "values": [250, 300, 350, 400], "grid": true, "gridWidth": 3, "ticks": false, "labelPadding": 14, "title": null}}}},
        {"data": {"values": [{}]}, "mark": {"type": "point", "opacity": 0},
         "encoding": {"x": {"datum": {"year": 2012, "month": 7, "date": 1, "utc": true}, "type": "temporal", "axis": {"orient": "bottom", "values": [{"year":2012,"month":5,"date":25,"hours":12,"utc":true},{"year":2012,"month":6,"date":8,"hours":12,"utc":true},{"year":2012,"month":6,"date":23,"hours":12,"utc":true},{"year":2012,"month":7,"date":8,"hours":12,"utc":true},{"year":2012,"month":7,"date":24,"hours":0,"utc":true},{"year":2012,"month":8,"date":8,"hours":12,"utc":true},{"year":2012,"month":8,"date":24,"hours":0,"utc":true},{"year":2012,"month":9,"date":8,"hours":12,"utc":true},{"year":2012,"month":9,"date":23,"hours":12,"utc":true}], "grid": true, "gridWidth": 1.5, "labels": false, "ticks": false, "title": null}},
          "y": {"datum": 300, "type": "quantitative", "scale": {"domain": [234.9, 401.6], "nice": false, "zero": false}, "axis": {"orient": "left", "values": [275, 325, 375], "grid": true, "gridWidth": 1.5, "labels": false, "ticks": false, "title": null}}}}
      ],
      "resolve": {"scale": {"y": "independent"}, "axis": {"x": "independent", "y": "independent"}}
    },
    {
      "title": "2013", "width": 1144, "height": 172,
      "layer": [
        {"data": {"name": "t2013"}, "transform": [{"filter": "datum.Tmax >= 30"}], "mark": {"type": "bar", "opacity": 0.3, "binSpacing": 0},
         "encoding": {"x": {"field": "Datum", "timeUnit": "utcmonthdate", "type": "temporal", "scale": {"type": "utc", "domain": [{"year": 2012, "month": 5, "date": 25, "hours": 12, "minutes": 58, "utc": true}, {"year": 2012, "month": 10, "date": 7, "hours": 9, "minutes": 36, "utc": true}]}, "axis": null},
          "y": {"datum": 41.34, "type": "quantitative", "scale": {"domain": [6.88, 41.34], "nice": false, "zero": false}, "axis": null}, "y2": {"datum": 6.88},
          "color": {"datum": "Hitzetag", "type": "nominal"}}},
        {"data": {"name": "t2013"}, "transform": [{"filter": "datum.Tmax >= 35"}], "mark": {"type": "bar", "opacity": 0.3, "binSpacing": 0},
         "encoding": {"x": {"field": "Datum", "timeUnit": "utcmonthdate", "type": "temporal", "axis": null},
          "y": {"datum": 41.34, "type": "quantitative", "scale": {"domain": [6.88, 41.34], "nice": false, "zero": false}, "axis": null}, "y2": {"datum": 6.88},
          "color": {"datum": "Wüstentag", "type": "nominal"}}},
        {"data": {"values": [{}]}, "mark": {"type": "rule", "color": "#A50F15", "strokeWidth": 2.8, "strokeDash": [2.8, 8.5]}, "encoding": {"y": {"datum": 30, "type": "quantitative", "scale": {"domain": [6.88, 41.34], "nice": false, "zero": false}, "axis": null}}},
        {"data": {"values": [{}]}, "mark": {"type": "rule", "color": "#C49A55", "strokeWidth": 2.8, "strokeDash": [2.8, 8.5]}, "encoding": {"y": {"datum": 35, "type": "quantitative", "scale": {"domain": [6.88, 41.34], "nice": false, "zero": false}, "axis": null}}},
        {"data": {"name": "t2013"}, "mark": {"type": "line", "color": "#A50F15", "strokeWidth": 2.6},
         "encoding": {"x": {"field": "Datum", "timeUnit": "utcmonthdate", "type": "temporal", "bandPosition": 0.5,
           "axis": {"orient": "bottom", "values": [{"year":2012,"month":6,"date":1,"hours":12,"utc":true},{"year":2012,"month":6,"date":15,"hours":12,"utc":true},{"year":2012,"month":7,"date":1,"hours":12,"utc":true},{"year":2012,"month":7,"date":15,"hours":12,"utc":true},{"year":2012,"month":8,"date":1,"hours":12,"utc":true},{"year":2012,"month":8,"date":15,"hours":12,"utc":true},{"year":2012,"month":9,"date":1,"hours":12,"utc":true},{"year":2012,"month":9,"date":15,"hours":12,"utc":true},{"year":2012,"month":10,"date":1,"hours":12,"utc":true}], "grid": true, "gridWidth": 3, "labels": false, "ticks": false, "title": null}},
          "y": {"field": "Tmax", "type": "quantitative", "scale": {"domain": [6.88, 41.34], "nice": false, "zero": false}, "axis": {"orient": "right", "values": [10, 20, 30, 40], "grid": false, "ticks": true, "tickColor": "#A50F15", "tickWidth": 2.7, "tickSize": 7, "offset": 2, "labelColor": "#A50F15", "labelPadding": 13, "title": null}}}},
        {"data": {"name": "n2013"}, "mark": {"type": "line", "color": "#000000", "strokeWidth": 2.6},
         "encoding": {"x": {"field": "Datum", "timeUnit": "utcmonthdate", "type": "temporal", "bandPosition": 0.5, "axis": null},
          "y": {"field": "Tote", "type": "quantitative", "scale": {"domain": [234.9, 401.6], "nice": false, "zero": false}, "axis": {"orient": "left", "values": [250, 300, 350, 400], "grid": true, "gridWidth": 3, "ticks": false, "labelPadding": 14, "title": null}}}},
        {"data": {"values": [{}]}, "mark": {"type": "point", "opacity": 0},
         "encoding": {"x": {"datum": {"year": 2012, "month": 7, "date": 1, "utc": true}, "type": "temporal", "axis": {"orient": "bottom", "values": [{"year":2012,"month":5,"date":25,"hours":12,"utc":true},{"year":2012,"month":6,"date":8,"hours":12,"utc":true},{"year":2012,"month":6,"date":23,"hours":12,"utc":true},{"year":2012,"month":7,"date":8,"hours":12,"utc":true},{"year":2012,"month":7,"date":24,"hours":0,"utc":true},{"year":2012,"month":8,"date":8,"hours":12,"utc":true},{"year":2012,"month":8,"date":24,"hours":0,"utc":true},{"year":2012,"month":9,"date":8,"hours":12,"utc":true},{"year":2012,"month":9,"date":23,"hours":12,"utc":true}], "grid": true, "gridWidth": 1.5, "labels": false, "ticks": false, "title": null}},
          "y": {"datum": 300, "type": "quantitative", "scale": {"domain": [234.9, 401.6], "nice": false, "zero": false}, "axis": {"orient": "left", "values": [275, 325, 375], "grid": true, "gridWidth": 1.5, "labels": false, "ticks": false, "title": null}}}}
      ],
      "resolve": {"scale": {"y": "independent"}, "axis": {"x": "independent", "y": "independent"}}
    },
    {
      "title": "2015", "width": 1144, "height": 172,
      "layer": [
        {"data": {"name": "t2015"}, "transform": [{"filter": "datum.Tmax >= 30"}], "mark": {"type": "bar", "opacity": 0.3, "binSpacing": 0},
         "encoding": {"x": {"field": "Datum", "timeUnit": "utcmonthdate", "type": "temporal", "scale": {"type": "utc", "domain": [{"year": 2012, "month": 5, "date": 25, "hours": 12, "minutes": 58, "utc": true}, {"year": 2012, "month": 10, "date": 7, "hours": 9, "minutes": 36, "utc": true}]}, "axis": null},
          "y": {"datum": 41.34, "type": "quantitative", "scale": {"domain": [6.88, 41.34], "nice": false, "zero": false}, "axis": null}, "y2": {"datum": 6.88},
          "color": {"datum": "Hitzetag", "type": "nominal"}}},
        {"data": {"name": "t2015"}, "transform": [{"filter": "datum.Tmax >= 35"}], "mark": {"type": "bar", "opacity": 0.3, "binSpacing": 0},
         "encoding": {"x": {"field": "Datum", "timeUnit": "utcmonthdate", "type": "temporal", "axis": null},
          "y": {"datum": 41.34, "type": "quantitative", "scale": {"domain": [6.88, 41.34], "nice": false, "zero": false}, "axis": null}, "y2": {"datum": 6.88},
          "color": {"datum": "Wüstentag", "type": "nominal"}}},
        {"data": {"values": [{}]}, "mark": {"type": "rule", "color": "#A50F15", "strokeWidth": 2.8, "strokeDash": [2.8, 8.5]}, "encoding": {"y": {"datum": 30, "type": "quantitative", "scale": {"domain": [6.88, 41.34], "nice": false, "zero": false}, "axis": null}}},
        {"data": {"values": [{}]}, "mark": {"type": "rule", "color": "#C49A55", "strokeWidth": 2.8, "strokeDash": [2.8, 8.5]}, "encoding": {"y": {"datum": 35, "type": "quantitative", "scale": {"domain": [6.88, 41.34], "nice": false, "zero": false}, "axis": null}}},
        {"data": {"name": "t2015"}, "mark": {"type": "line", "color": "#A50F15", "strokeWidth": 2.6},
         "encoding": {"x": {"field": "Datum", "timeUnit": "utcmonthdate", "type": "temporal", "bandPosition": 0.5,
           "axis": {"orient": "bottom", "values": [{"year":2012,"month":6,"date":1,"hours":12,"utc":true},{"year":2012,"month":6,"date":15,"hours":12,"utc":true},{"year":2012,"month":7,"date":1,"hours":12,"utc":true},{"year":2012,"month":7,"date":15,"hours":12,"utc":true},{"year":2012,"month":8,"date":1,"hours":12,"utc":true},{"year":2012,"month":8,"date":15,"hours":12,"utc":true},{"year":2012,"month":9,"date":1,"hours":12,"utc":true},{"year":2012,"month":9,"date":15,"hours":12,"utc":true},{"year":2012,"month":10,"date":1,"hours":12,"utc":true}], "grid": true, "gridWidth": 3, "labels": false, "ticks": false, "title": null}},
          "y": {"field": "Tmax", "type": "quantitative", "scale": {"domain": [6.88, 41.34], "nice": false, "zero": false}, "axis": {"orient": "right", "values": [10, 20, 30, 40], "grid": false, "ticks": true, "tickColor": "#A50F15", "tickWidth": 2.7, "tickSize": 7, "offset": 2, "labelColor": "#A50F15", "labelPadding": 13, "title": "Höchsttemperatur (°C)", "titleColor": "#A50F15", "titleAngle": 90, "titleBaseline": "alphabetic", "titleAlign": "center", "titleX": 58.8, "titleY": 203.6}}}},
        {"data": {"name": "n2015"}, "mark": {"type": "line", "color": "#000000", "strokeWidth": 2.6},
         "encoding": {"x": {"field": "Datum", "timeUnit": "utcmonthdate", "type": "temporal", "bandPosition": 0.5, "axis": null},
          "y": {"field": "Tote", "type": "quantitative", "scale": {"domain": [234.9, 401.6], "nice": false, "zero": false}, "axis": {"orient": "left", "values": [250, 300, 350, 400], "grid": true, "gridWidth": 3, "ticks": false, "labelPadding": 14, "title": "Todesfälle in Wien", "titleAngle": -90, "titleBaseline": "alphabetic", "titleAlign": "center", "titleX": -66.5, "titleY": 203.6}}}},
        {"data": {"values": [{}]}, "mark": {"type": "point", "opacity": 0},
         "encoding": {"x": {"datum": {"year": 2012, "month": 7, "date": 1, "utc": true}, "type": "temporal", "axis": {"orient": "bottom", "values": [{"year":2012,"month":5,"date":25,"hours":12,"utc":true},{"year":2012,"month":6,"date":8,"hours":12,"utc":true},{"year":2012,"month":6,"date":23,"hours":12,"utc":true},{"year":2012,"month":7,"date":8,"hours":12,"utc":true},{"year":2012,"month":7,"date":24,"hours":0,"utc":true},{"year":2012,"month":8,"date":8,"hours":12,"utc":true},{"year":2012,"month":8,"date":24,"hours":0,"utc":true},{"year":2012,"month":9,"date":8,"hours":12,"utc":true},{"year":2012,"month":9,"date":23,"hours":12,"utc":true}], "grid": true, "gridWidth": 1.5, "labels": false, "ticks": false, "title": null}},
          "y": {"datum": 300, "type": "quantitative", "scale": {"domain": [234.9, 401.6], "nice": false, "zero": false}, "axis": {"orient": "left", "values": [275, 325, 375], "grid": true, "gridWidth": 1.5, "labels": false, "ticks": false, "title": null}}}}
      ],
      "resolve": {"scale": {"y": "independent"}, "axis": {"x": "independent", "y": "independent"}}
    },
    {
      "title": "2019", "width": 1144, "height": 172,
      "layer": [
        {"data": {"name": "t2019"}, "transform": [{"filter": "datum.Tmax >= 30"}], "mark": {"type": "bar", "opacity": 0.3, "binSpacing": 0},
         "encoding": {"x": {"field": "Datum", "timeUnit": "utcmonthdate", "type": "temporal", "scale": {"type": "utc", "domain": [{"year": 2012, "month": 5, "date": 25, "hours": 12, "minutes": 58, "utc": true}, {"year": 2012, "month": 10, "date": 7, "hours": 9, "minutes": 36, "utc": true}]}, "axis": null},
          "y": {"datum": 41.34, "type": "quantitative", "scale": {"domain": [6.88, 41.34], "nice": false, "zero": false}, "axis": null}, "y2": {"datum": 6.88},
          "color": {"datum": "Hitzetag", "type": "nominal"}}},
        {"data": {"name": "t2019"}, "transform": [{"filter": "datum.Tmax >= 35"}], "mark": {"type": "bar", "opacity": 0.3, "binSpacing": 0},
         "encoding": {"x": {"field": "Datum", "timeUnit": "utcmonthdate", "type": "temporal", "axis": null},
          "y": {"datum": 41.34, "type": "quantitative", "scale": {"domain": [6.88, 41.34], "nice": false, "zero": false}, "axis": null}, "y2": {"datum": 6.88},
          "color": {"datum": "Wüstentag", "type": "nominal"}}},
        {"data": {"values": [{}]}, "mark": {"type": "rule", "color": "#A50F15", "strokeWidth": 2.8, "strokeDash": [2.8, 8.5]}, "encoding": {"y": {"datum": 30, "type": "quantitative", "scale": {"domain": [6.88, 41.34], "nice": false, "zero": false}, "axis": null}}},
        {"data": {"values": [{}]}, "mark": {"type": "rule", "color": "#C49A55", "strokeWidth": 2.8, "strokeDash": [2.8, 8.5]}, "encoding": {"y": {"datum": 35, "type": "quantitative", "scale": {"domain": [6.88, 41.34], "nice": false, "zero": false}, "axis": null}}},
        {"data": {"name": "t2019"}, "mark": {"type": "line", "color": "#A50F15", "strokeWidth": 2.6},
         "encoding": {"x": {"field": "Datum", "timeUnit": "utcmonthdate", "type": "temporal", "bandPosition": 0.5,
           "axis": {"orient": "bottom", "values": [{"year":2012,"month":6,"date":1,"hours":12,"utc":true},{"year":2012,"month":6,"date":15,"hours":12,"utc":true},{"year":2012,"month":7,"date":1,"hours":12,"utc":true},{"year":2012,"month":7,"date":15,"hours":12,"utc":true},{"year":2012,"month":8,"date":1,"hours":12,"utc":true},{"year":2012,"month":8,"date":15,"hours":12,"utc":true},{"year":2012,"month":9,"date":1,"hours":12,"utc":true},{"year":2012,"month":9,"date":15,"hours":12,"utc":true},{"year":2012,"month":10,"date":1,"hours":12,"utc":true}], "grid": true, "gridWidth": 3, "labels": false, "ticks": false, "title": null}},
          "y": {"field": "Tmax", "type": "quantitative", "scale": {"domain": [6.88, 41.34], "nice": false, "zero": false}, "axis": {"orient": "right", "values": [10, 20, 30, 40], "grid": false, "ticks": true, "tickColor": "#A50F15", "tickWidth": 2.7, "tickSize": 7, "offset": 2, "labelColor": "#A50F15", "labelPadding": 13, "title": null}}}},
        {"data": {"name": "n2019"}, "mark": {"type": "line", "color": "#000000", "strokeWidth": 2.6},
         "encoding": {"x": {"field": "Datum", "timeUnit": "utcmonthdate", "type": "temporal", "bandPosition": 0.5, "axis": null},
          "y": {"field": "Tote", "type": "quantitative", "scale": {"domain": [234.9, 401.6], "nice": false, "zero": false}, "axis": {"orient": "left", "values": [250, 300, 350, 400], "grid": true, "gridWidth": 3, "ticks": false, "labelPadding": 14, "title": null}}}},
        {"data": {"values": [{}]}, "mark": {"type": "point", "opacity": 0},
         "encoding": {"x": {"datum": {"year": 2012, "month": 7, "date": 1, "utc": true}, "type": "temporal", "axis": {"orient": "bottom", "values": [{"year":2012,"month":5,"date":25,"hours":12,"utc":true},{"year":2012,"month":6,"date":8,"hours":12,"utc":true},{"year":2012,"month":6,"date":23,"hours":12,"utc":true},{"year":2012,"month":7,"date":8,"hours":12,"utc":true},{"year":2012,"month":7,"date":24,"hours":0,"utc":true},{"year":2012,"month":8,"date":8,"hours":12,"utc":true},{"year":2012,"month":8,"date":24,"hours":0,"utc":true},{"year":2012,"month":9,"date":8,"hours":12,"utc":true},{"year":2012,"month":9,"date":23,"hours":12,"utc":true}], "grid": true, "gridWidth": 1.5, "labels": false, "ticks": false, "title": null}},
          "y": {"datum": 300, "type": "quantitative", "scale": {"domain": [234.9, 401.6], "nice": false, "zero": false}, "axis": {"orient": "left", "values": [275, 325, 375], "grid": true, "gridWidth": 1.5, "labels": false, "ticks": false, "title": null}}}}
      ],
      "resolve": {"scale": {"y": "independent"}, "axis": {"x": "independent", "y": "independent"}}
    },
    {
      "title": "2024", "width": 1144, "height": 172,
      "layer": [
        {"data": {"name": "t2024"}, "transform": [{"filter": "datum.Tmax >= 30"}], "mark": {"type": "bar", "opacity": 0.3, "binSpacing": 0},
         "encoding": {"x": {"field": "Datum", "timeUnit": "utcmonthdate", "type": "temporal", "scale": {"type": "utc", "domain": [{"year": 2012, "month": 5, "date": 25, "hours": 12, "minutes": 58, "utc": true}, {"year": 2012, "month": 10, "date": 7, "hours": 9, "minutes": 36, "utc": true}]}, "axis": null},
          "y": {"datum": 41.34, "type": "quantitative", "scale": {"domain": [6.88, 41.34], "nice": false, "zero": false}, "axis": null}, "y2": {"datum": 6.88},
          "color": {"datum": "Hitzetag", "type": "nominal"}}},
        {"data": {"name": "t2024"}, "transform": [{"filter": "datum.Tmax >= 35"}], "mark": {"type": "bar", "opacity": 0.3, "binSpacing": 0},
         "encoding": {"x": {"field": "Datum", "timeUnit": "utcmonthdate", "type": "temporal", "axis": null},
          "y": {"datum": 41.34, "type": "quantitative", "scale": {"domain": [6.88, 41.34], "nice": false, "zero": false}, "axis": null}, "y2": {"datum": 6.88},
          "color": {"datum": "Wüstentag", "type": "nominal"}}},
        {"data": {"values": [{}]}, "mark": {"type": "rule", "color": "#A50F15", "strokeWidth": 2.8, "strokeDash": [2.8, 8.5]}, "encoding": {"y": {"datum": 30, "type": "quantitative", "scale": {"domain": [6.88, 41.34], "nice": false, "zero": false}, "axis": null}}},
        {"data": {"values": [{}]}, "mark": {"type": "rule", "color": "#C49A55", "strokeWidth": 2.8, "strokeDash": [2.8, 8.5]}, "encoding": {"y": {"datum": 35, "type": "quantitative", "scale": {"domain": [6.88, 41.34], "nice": false, "zero": false}, "axis": null}}},
        {"data": {"name": "t2024"}, "mark": {"type": "line", "color": "#A50F15", "strokeWidth": 2.6},
         "encoding": {"x": {"field": "Datum", "timeUnit": "utcmonthdate", "type": "temporal", "bandPosition": 0.5,
           "axis": {"orient": "bottom", "values": [{"year":2012,"month":6,"date":1,"hours":12,"utc":true},{"year":2012,"month":6,"date":15,"hours":12,"utc":true},{"year":2012,"month":7,"date":1,"hours":12,"utc":true},{"year":2012,"month":7,"date":15,"hours":12,"utc":true},{"year":2012,"month":8,"date":1,"hours":12,"utc":true},{"year":2012,"month":8,"date":15,"hours":12,"utc":true},{"year":2012,"month":9,"date":1,"hours":12,"utc":true},{"year":2012,"month":9,"date":15,"hours":12,"utc":true},{"year":2012,"month":10,"date":1,"hours":12,"utc":true}], "grid": true, "gridWidth": 3, "labels": false, "ticks": false, "title": null}},
          "y": {"field": "Tmax", "type": "quantitative", "scale": {"domain": [6.88, 41.34], "nice": false, "zero": false}, "axis": {"orient": "right", "values": [10, 20, 30, 40], "grid": false, "ticks": true, "tickColor": "#A50F15", "tickWidth": 2.7, "tickSize": 7, "offset": 2, "labelColor": "#A50F15", "labelPadding": 13, "title": null}}}},
        {"data": {"name": "n2024"}, "mark": {"type": "line", "color": "#000000", "strokeWidth": 2.6},
         "encoding": {"x": {"field": "Datum", "timeUnit": "utcmonthdate", "type": "temporal", "bandPosition": 0.5, "axis": null},
          "y": {"field": "Tote", "type": "quantitative", "scale": {"domain": [234.9, 401.6], "nice": false, "zero": false}, "axis": {"orient": "left", "values": [250, 300, 350, 400], "grid": true, "gridWidth": 3, "ticks": false, "labelPadding": 14, "title": null}}}},
        {"data": {"values": [{}]}, "mark": {"type": "point", "opacity": 0},
         "encoding": {"x": {"datum": {"year": 2012, "month": 7, "date": 1, "utc": true}, "type": "temporal", "axis": {"orient": "bottom", "values": [{"year":2012,"month":5,"date":25,"hours":12,"utc":true},{"year":2012,"month":6,"date":8,"hours":12,"utc":true},{"year":2012,"month":6,"date":23,"hours":12,"utc":true},{"year":2012,"month":7,"date":8,"hours":12,"utc":true},{"year":2012,"month":7,"date":24,"hours":0,"utc":true},{"year":2012,"month":8,"date":8,"hours":12,"utc":true},{"year":2012,"month":8,"date":24,"hours":0,"utc":true},{"year":2012,"month":9,"date":8,"hours":12,"utc":true},{"year":2012,"month":9,"date":23,"hours":12,"utc":true}], "grid": true, "gridWidth": 1.5, "labels": false, "ticks": false, "title": null}},
          "y": {"datum": 300, "type": "quantitative", "scale": {"domain": [234.9, 401.6], "nice": false, "zero": false}, "axis": {"orient": "left", "values": [275, 325, 375], "grid": true, "gridWidth": 1.5, "labels": false, "ticks": false, "title": null}}}}
      ],
      "resolve": {"scale": {"y": "independent"}, "axis": {"x": "independent", "y": "independent"}}
    },
    {
      "title": "2026", "width": 1144, "height": 172,
      "layer": [
        {"data": {"name": "t2026"}, "transform": [{"filter": "datum.Tmax >= 30"}], "mark": {"type": "bar", "opacity": 0.3, "binSpacing": 0},
         "encoding": {"x": {"field": "Datum", "timeUnit": "utcmonthdate", "type": "temporal", "scale": {"type": "utc", "domain": [{"year": 2012, "month": 5, "date": 25, "hours": 12, "minutes": 58, "utc": true}, {"year": 2012, "month": 10, "date": 7, "hours": 9, "minutes": 36, "utc": true}]}, "axis": null},
          "y": {"datum": 41.34, "type": "quantitative", "scale": {"domain": [6.88, 41.34], "nice": false, "zero": false}, "axis": null}, "y2": {"datum": 6.88},
          "color": {"datum": "Hitzetag", "type": "nominal"}}},
        {"data": {"name": "t2026"}, "transform": [{"filter": "datum.Tmax >= 35"}], "mark": {"type": "bar", "opacity": 0.3, "binSpacing": 0},
         "encoding": {"x": {"field": "Datum", "timeUnit": "utcmonthdate", "type": "temporal", "axis": null},
          "y": {"datum": 41.34, "type": "quantitative", "scale": {"domain": [6.88, 41.34], "nice": false, "zero": false}, "axis": null}, "y2": {"datum": 6.88},
          "color": {"datum": "Wüstentag", "type": "nominal"}}},
        {"data": {"values": [{}]}, "mark": {"type": "rule", "color": "#A50F15", "strokeWidth": 2.8, "strokeDash": [2.8, 8.5]}, "encoding": {"y": {"datum": 30, "type": "quantitative", "scale": {"domain": [6.88, 41.34], "nice": false, "zero": false}, "axis": null}}},
        {"data": {"values": [{}]}, "mark": {"type": "rule", "color": "#C49A55", "strokeWidth": 2.8, "strokeDash": [2.8, 8.5]}, "encoding": {"y": {"datum": 35, "type": "quantitative", "scale": {"domain": [6.88, 41.34], "nice": false, "zero": false}, "axis": null}}},
        {"data": {"name": "t2026"}, "mark": {"type": "line", "color": "#A50F15", "strokeWidth": 2.6},
         "encoding": {"x": {"field": "Datum", "timeUnit": "utcmonthdate", "type": "temporal", "bandPosition": 0.5,
           "axis": {"orient": "bottom", "values": [{"year":2012,"month":6,"date":1,"hours":12,"utc":true},{"year":2012,"month":6,"date":15,"hours":12,"utc":true},{"year":2012,"month":7,"date":1,"hours":12,"utc":true},{"year":2012,"month":7,"date":15,"hours":12,"utc":true},{"year":2012,"month":8,"date":1,"hours":12,"utc":true},{"year":2012,"month":8,"date":15,"hours":12,"utc":true},{"year":2012,"month":9,"date":1,"hours":12,"utc":true},{"year":2012,"month":9,"date":15,"hours":12,"utc":true},{"year":2012,"month":10,"date":1,"hours":12,"utc":true}], "grid": true, "gridWidth": 3, "ticks": false, "labelPadding": 11, "labelFlush": false, "labelOverlap": false,
             "labelExpr": "utcdate(datum.value) + '. ' + ['Jan.','Feb.','März','Apr.','Mai','Juni','Juli','Aug.','Sep.','Okt.','Nov.','Dez.'][utcmonth(datum.value)]",
             "title": "Datum", "titlePadding": 4}},
          "y": {"field": "Tmax", "type": "quantitative", "scale": {"domain": [6.88, 41.34], "nice": false, "zero": false}, "axis": {"orient": "right", "values": [10, 20, 30, 40], "grid": false, "ticks": true, "tickColor": "#A50F15", "tickWidth": 2.7, "tickSize": 7, "offset": 2, "labelColor": "#A50F15", "labelPadding": 13, "title": null}}}},
        {"data": {"name": "n2026"}, "mark": {"type": "line", "color": "#000000", "strokeWidth": 2.6},
         "encoding": {"x": {"field": "Datum", "timeUnit": "utcmonthdate", "type": "temporal", "bandPosition": 0.5, "axis": null},
          "y": {"field": "Tote", "type": "quantitative", "scale": {"domain": [234.9, 401.6], "nice": false, "zero": false}, "axis": {"orient": "left", "values": [250, 300, 350, 400], "grid": true, "gridWidth": 3, "ticks": false, "labelPadding": 14, "title": null}}}},
        {"data": {"values": [{}]}, "mark": {"type": "point", "opacity": 0},
         "encoding": {"x": {"datum": {"year": 2012, "month": 7, "date": 1, "utc": true}, "type": "temporal", "axis": {"orient": "bottom", "values": [{"year":2012,"month":5,"date":25,"hours":12,"utc":true},{"year":2012,"month":6,"date":8,"hours":12,"utc":true},{"year":2012,"month":6,"date":23,"hours":12,"utc":true},{"year":2012,"month":7,"date":8,"hours":12,"utc":true},{"year":2012,"month":7,"date":24,"hours":0,"utc":true},{"year":2012,"month":8,"date":8,"hours":12,"utc":true},{"year":2012,"month":8,"date":24,"hours":0,"utc":true},{"year":2012,"month":9,"date":8,"hours":12,"utc":true},{"year":2012,"month":9,"date":23,"hours":12,"utc":true}], "grid": true, "gridWidth": 1.5, "labels": false, "ticks": false, "title": null}},
          "y": {"datum": 300, "type": "quantitative", "scale": {"domain": [234.9, 401.6], "nice": false, "zero": false}, "axis": {"orient": "left", "values": [275, 325, 375], "grid": true, "gridWidth": 1.5, "labels": false, "ticks": false, "title": null}}}}
      ],
      "resolve": {"scale": {"y": "independent"}, "axis": {"x": "independent", "y": "independent"}}
    }
  ]
}
